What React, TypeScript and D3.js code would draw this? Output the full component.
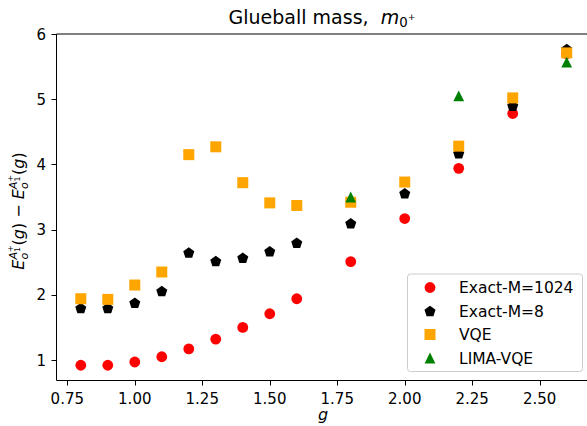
import React from 'react';
import * as d3 from 'd3';

// g values for each series
const gExact = [0.8, 0.9, 1.0, 1.1, 1.2, 1.3, 1.4, 1.5, 1.6, 1.8, 2.0, 2.2, 2.4, 2.6];
const gLima = [1.8, 2.2, 2.6];

const exact1024 = [0.92, 0.92, 0.97, 1.05, 1.17, 1.32, 1.5, 1.71, 1.94, 2.51, 3.17, 3.94, 4.78, 5.7];
const exact8 = [1.8, 1.8, 1.88, 2.06, 2.65, 2.52, 2.57, 2.67, 2.8, 3.1, 3.56, 4.17, 4.9, 5.77];
const vqe = [1.94, 1.93, 2.15, 2.35, 4.15, 4.27, 3.72, 3.41, 3.37, 3.42, 3.73, 4.28, 5.02, 5.71];
const limaVqe = [3.5, 5.05, 5.57];

const xTicks = [0.75, 1.0, 1.25, 1.5, 1.75, 2.0, 2.25, 2.5];
const yTicks = [1, 2, 3, 4, 5, 6];

const legendLabels = ['Exact-M=1024', 'Exact-M=8', 'VQE', 'LIMA-VQE'];

const W = 587;
const H = 426;
const FONT = 'DejaVu Sans';

type Shape = 'circle' | 'pentagon' | 'square' | 'triangle';

const Marker = ({ shape, cx, cy, color }: { shape: Shape; cx: number; cy: number; color: string }) => {
    if (shape === 'circle') return <circle cx={cx} cy={cy} r={5.4} fill={color} />;
    if (shape === 'square') return <rect x={cx - 5.5} y={cy - 5.5} width={11} height={11} fill={color} />;
    if (shape === 'triangle') {
        const s = 5.4;
        return <polygon points={`${cx},${cy - s} ${cx - s},${cy + s} ${cx + s},${cy + s}`} fill={color} />;
    }
    // pentagon
    const r = 5.8;
    const pts = d3.range(5).map(i => {
        const a = -Math.PI / 2 + (i * 2 * Math.PI) / 5;
        return `${cx + r * Math.cos(a)},${cy + r * Math.sin(a) + 0.6}`;
    });
    return <polygon points={pts.join(' ')} fill={color} />;
};

const App = () => {
    const margin = { top: 34, left: 56.5, bottom: 380.5 };

    const x = d3.scaleLinear().domain([0.71, 2.69]).range([margin.left, 591]);
    const y = d3.scaleLinear().domain([0.686, 6]).range([margin.bottom, margin.top]);

    const series: { xs: number[]; ys: number[]; shape: Shape; color: string }[] = [
        { xs: gExact, ys: exact1024, shape: 'circle', color: '#ff0000' },
        { xs: gExact, ys: exact8, shape: 'pentagon', color: '#000000' },
        { xs: gExact, ys: vqe, shape: 'square', color: '#ffa500' },
        { xs: gLima, ys: limaVqe, shape: 'triangle', color: '#008000' },
    ];

    const supE = (key: string) => (
        <React.Fragment key={key}>
            <tspan fontStyle="italic">E</tspan>
            <tspan fontStyle="italic" fontSize={11.2} dy={3.5}>o</tspan>
            <tspan fontStyle="italic" fontSize={11.2} dx={-6.9} dy={-10.5}>A</tspan>
            <tspan fontSize={7.8} dy={3}>1</tspan>
            <tspan fontSize={7.8} dx={-5} dy={-7}>+</tspan>
            <tspan dy={11}>(</tspan>
            <tspan fontStyle="italic">g</tspan>
            <tspan>)</tspan>
        </React.Fragment>
    );

    return (
        <svg width={W} height={H} style={{ position: 'absolute', left: 0, top: 0, background: '#fff' }} fontFamily={FONT}>
            {/* title */}
            <text x={322} y={24} fontSize={19} textAnchor="middle" style={{ whiteSpace: 'pre' }}>
                {'Glueball mass,  '}
                <tspan fontStyle="italic">m</tspan>
                <tspan fontSize={13.3} dy={3}>0</tspan>
                <tspan fontSize={9.3} dy={-7}>+</tspan>
            </text>

            {/* spines */}
            <line x1={margin.left} x2={W} y1={margin.top} y2={margin.top} stroke="#000" strokeWidth={1} />
            <line x1={margin.left} x2={W} y1={margin.bottom} y2={margin.bottom} stroke="#000" strokeWidth={1} />
            <line x1={margin.left} x2={margin.left} y1={margin.top} y2={margin.bottom} stroke="#000" strokeWidth={1} />

            {/* x axis ticks */}
            {xTicks.map(t => (
                <g key={t}>
                    <line x1={Math.round(x(t)) + 0.5} x2={Math.round(x(t)) + 0.5} y1={margin.bottom} y2={margin.bottom + 5} stroke="#000" />
                    <text x={x(t)} y={403.5} fontSize={15} textAnchor="middle">{t.toFixed(2)}</text>
                </g>
            ))}
            <text x={323} y={420} fontSize={16} fontStyle="italic" textAnchor="middle">g</text>

            {/* y axis ticks */}
            {yTicks.map(t => (
                <g key={t}>
                    <line x1={margin.left - 5} x2={margin.left} y1={Math.round(y(t)) + 0.5} y2={Math.round(y(t)) + 0.5} stroke="#000" />
                    <text x={46} y={y(t) + 5.5} fontSize={15} textAnchor="end">{t}</text>
                </g>
            ))}
            <text transform="translate(24,211) rotate(-90)" fontSize={16} textAnchor="middle" style={{ whiteSpace: 'pre' }}>
                {supE('a')}
                <tspan>{' \u2212 '}</tspan>
                {supE('b')}
            </text>

            {/* data */}
            {series.map((s, si) => (
                <g key={si}>
                    {s.xs.map((gv, i) => (
                        <Marker key={i} shape={s.shape} cx={x(gv)} cy={y(s.ys[i])} color={s.color} />
                    ))}
                </g>
            ))}

            {/* legend */}
            <rect x={407.5} y={274} width={175} height={97.5} rx={3} fill="#fff" fillOpacity={0.8} stroke="#cccccc" />
            {series.map((s, i) => {
                const ly = 287.5 + i * 23.5;
                return (
                    <g key={i}>
                        <Marker shape={s.shape} cx={430} cy={ly} color={s.color} />
                        <text x={459} y={ly + 5.5} fontSize={15.5}>{legendLabels[i]}</text>
                    </g>
                );
            })}
        </svg>
    );
};

export default App;
